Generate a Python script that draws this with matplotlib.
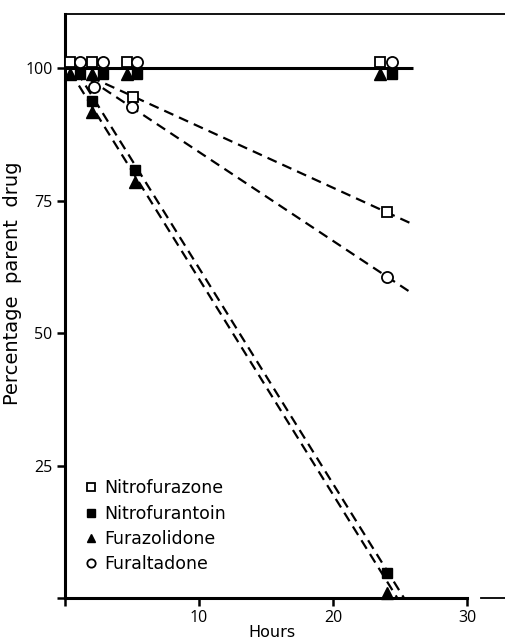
import matplotlib
matplotlib.use("Agg")
import matplotlib.pyplot as plt

plt.rcParams['font.family'] = ['Open Sans', 'DejaVu Sans']

# control points sitting on the 100 % line (two offset columns)
ctrl_hours_a = [0.4, 2.0, 4.6, 23.5]
ctrl_hours_b = [1.1, 2.8, 5.4, 24.4]
ctrl_top = 101.2
ctrl_bottom = 98.9
ctrl_line_x = [0, 26]
ctrl_line_y = [100, 100]

# measured decay points
furazone_h = [5.1, 24.0]
furazone_y = [94.5, 72.8]
furaltadone_h = [2.2, 5.0, 24.0]
furaltadone_y = [96.4, 92.6, 60.6]
furantoin_h = [2.0, 5.2, 24.0]
furantoin_y = [93.8, 80.8, 4.7]
furazolidone_h = [2.0, 5.2, 24.0]
furazolidone_y = [91.8, 78.5, 1.0]

# fitted dashed lines (start, end)
fit_furazone = ([0.8, 25.9], [99.6, 70.6])
fit_furaltadone = ([0.8, 25.9], [99.6, 57.5])
fit_furantoin = ([0.9, 25.3], [99.3, 0.0])
fit_furazolidone = ([0.4, 24.8], [99.3, 0.0])

x_ticks = [0, 10, 20, 30]
x_labels = ['', '10', '20', '30']
y_ticks = [0, 25, 50, 75, 100]
y_labels = ['', '25', '50', '75', '100']

fig = plt.figure(figsize=(5.05, 6.43), dpi=100)
ax = fig.add_axes([0.1287, 0.0700, 0.8713, 0.9082])

ax.plot(ctrl_line_x, ctrl_line_y, color='black', lw=2.2, solid_capstyle='butt')

dash = dict(color='black', lw=1.6, linestyle=(0, (4.5, 2.8)))
for fx, fy in [fit_furazone, fit_furaltadone, fit_furantoin, fit_furazolidone]:
    ax.plot(fx, fy, **dash)

ms = 7.5
open_kw = dict(linestyle='none', mfc='white', mec='black', mew=1.3, clip_on=False, zorder=5)
fill_kw = dict(linestyle='none', color='black', clip_on=False, zorder=5)

ax.plot(ctrl_hours_a, [ctrl_top] * len(ctrl_hours_a), marker='s', ms=ms, **open_kw)
ax.plot(ctrl_hours_b, [ctrl_top] * len(ctrl_hours_b), marker='o', ms=ms + 0.5, **open_kw)
ax.plot(ctrl_hours_a, [ctrl_bottom] * len(ctrl_hours_a), marker='^', ms=ms + 0.5, **fill_kw)
ax.plot(ctrl_hours_b, [ctrl_bottom] * len(ctrl_hours_b), marker='s', ms=ms, **fill_kw)

h1, = ax.plot(furazone_h, furazone_y, marker='s', ms=ms, label='Nitrofurazone', **open_kw)
h2, = ax.plot(furantoin_h, furantoin_y, marker='s', ms=ms, label='Nitrofurantoin', **fill_kw)
h3, = ax.plot(furazolidone_h, furazolidone_y, marker='^', ms=ms + 0.5, label='Furazolidone', **fill_kw)
h4, = ax.plot(furaltadone_h, furaltadone_y, marker='o', ms=ms + 0.5, label='Furaltadone', **open_kw)

ax.legend(handles=[h1, h2, h3, h4], loc='upper left', bbox_to_anchor=(0.031, 0.215),
          frameon=False, markerscale=0.75, handlelength=0.6,
          handletextpad=0.45, labelspacing=0.42, borderaxespad=0,
          prop={'family': 'DejaVu Sans', 'size': 12.5})

ax.set_xlim(0, 32.84)
ax.set_ylim(0, 110.2)
ax.set_xticks(x_ticks)
ax.set_xticklabels(x_labels)
ax.set_yticks(y_ticks)
ax.set_yticklabels(y_labels)
ax.tick_params(axis='both', direction='out', length=6, width=1.8, labelsize=11.5, pad=3)

for side in ['left', 'bottom', 'top']:
    ax.spines[side].set_linewidth(2.2)
ax.spines['top'].set_linewidth(1.3)
ax.spines['right'].set_visible(False)
ax.spines['bottom'].set_bounds(0, 30)

# stray piece of baseline beyond the 30 h tick
ax.plot([0.945, 1.0], [0, 0], transform=ax.transAxes, color='black', lw=1.3, clip_on=False)

ax.set_xlabel('Hours', fontsize=11.5, family='DejaVu Sans', labelpad=0)
ax.xaxis.set_label_coords(0.47, -0.046)
ax.set_ylabel('Percentage  parent  drug', fontsize=14, family='DejaVu Sans')
ax.yaxis.set_label_coords(-0.097, 0.539)

fig.savefig('out.png', dpi=100)
